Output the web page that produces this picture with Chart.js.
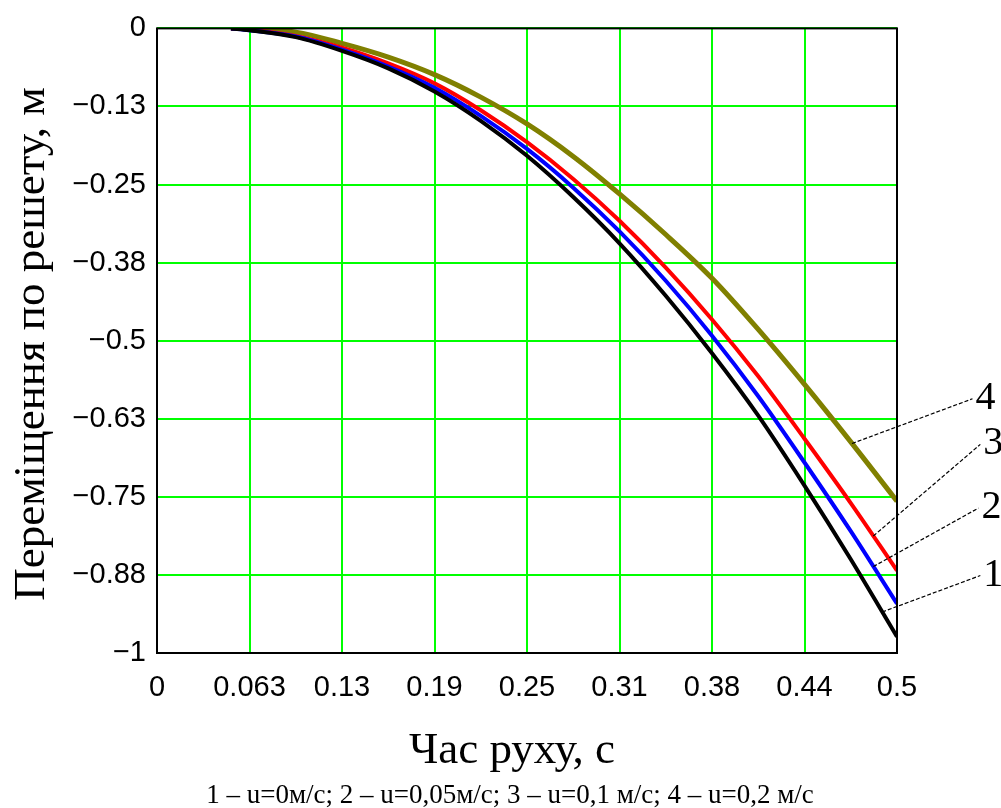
<!DOCTYPE html>
<html>
<head>
<meta charset="utf-8">
<script src="https://cdn.jsdelivr.net/npm/chart.js@4/dist/chart.umd.min.js"></script>
<style>
  html, body { margin: 0; padding: 0; background: #fff; }
  #wrap { width: 1001px; height: 808px; position: relative; }
</style>
</head>
<body>
<div id="wrap"><canvas id="c" width="1001" height="808"></canvas></div>
<script>
// ---- data ----
const time = [0.05, 0.0625, 0.09375, 0.125, 0.15625, 0.1875, 0.21875, 0.25, 0.28125, 0.3125, 0.34375, 0.375, 0.40625, 0.4375, 0.46875, 0.5];
const series1 = [0, -0.003, -0.014, -0.036, -0.064, -0.101, -0.148, -0.204, -0.270, -0.344, -0.428, -0.520, -0.620, -0.732, -0.850, -0.974];
const series2 = [0, -0.003, -0.013, -0.034, -0.061, -0.095, -0.140, -0.193, -0.255, -0.325, -0.404, -0.492, -0.589, -0.695, -0.805, -0.921];
const series3 = [0, -0.002, -0.012, -0.031, -0.056, -0.088, -0.131, -0.182, -0.241, -0.308, -0.383, -0.466, -0.557, -0.657, -0.760, -0.868];
const series4 = [0, 0, -0.006, -0.024, -0.046, -0.074, -0.110, -0.153, -0.205, -0.265, -0.330, -0.400, -0.482, -0.570, -0.662, -0.757];
const seriesNames = ["1", "2", "3", "4"];
const seriesColors = ["#000000", "#0000ff", "#ff0000", "#808000"];

const xTickValues = [0, 0.0625, 0.125, 0.1875, 0.25, 0.3125, 0.375, 0.4375, 0.5];
const xTickLabels = ["0", "0.063", "0.13", "0.19", "0.25", "0.31", "0.38", "0.44", "0.5"];
const yTickValues = [0, -0.125, -0.25, -0.375, -0.5, -0.625, -0.75, -0.875, -1];
const yTickLabels = ["0", "\u22120.13", "\u22120.25", "\u22120.38", "\u22120.5", "\u22120.63", "\u22120.75", "\u22120.88", "\u22121"];

const xTitle = "Час руху, с";
const yTitle = "Переміщення по решету, м";
const caption = "1 \u2013 u=0м/с; 2 \u2013 u=0,05м/с; 3 \u2013 u=0,1 м/с; 4 \u2013 u=0,2 м/с";

// leader lines: start on curve at time t, end at (t, value) outside plot
const leaderStartT = [0.49, 0.484, 0.484, 0.4696];
const leaderEndT = [0.5563, 0.555, 0.5563, 0.551];
const leaderEndV = [-0.876, -0.768, -0.666, -0.593];

// ---- chart ----
const allSeries = [series1, series2, series3, series4];
const datasets = allSeries.map((s, i) => ({
  label: seriesNames[i],
  data: time.map((t, j) => ({ x: t, y: s[j] })),
  borderColor: seriesColors[i],
  borderWidth: i === 3 ? 5 : 4,
  pointRadius: 0,
  fill: false,
  cubicInterpolationMode: 'monotone'
}));

function interp(s, t) {
  for (let j = 0; j < time.length - 1; j++) {
    if (t >= time[j] && t <= time[j + 1]) {
      const f = (t - time[j]) / (time[j + 1] - time[j]);
      return s[j] + f * (s[j + 1] - s[j]);
    }
  }
  return s[s.length - 1];
}

const decor = {
  id: 'decor',
  afterDatasetsDraw(chart) {
    const ctx = chart.ctx;
    const a = chart.chartArea;
    const xs = chart.scales.x, ys = chart.scales.y;
    ctx.save();
    // frame
    ctx.strokeStyle = '#000';
    ctx.lineWidth = 2;
    ctx.strokeRect(a.left, a.top, a.right - a.left, a.bottom - a.top);
    // leaders
    ctx.lineWidth = 1.2;
    ctx.setLineDash([4, 2]);
    ctx.font = '40px "Liberation Serif"';
    ctx.fillStyle = '#000';
    ctx.textAlign = 'left';
    ctx.textBaseline = 'alphabetic';
    for (let i = 0; i < 4; i++) {
      const t0 = leaderStartT[i];
      const x0 = xs.getPixelForValue(t0), y0 = ys.getPixelForValue(interp(allSeries[i], t0));
      const x1 = xs.getPixelForValue(leaderEndT[i]), y1 = ys.getPixelForValue(leaderEndV[i]);
      ctx.beginPath();
      ctx.moveTo(x0, y0);
      ctx.lineTo(x1, y1);
      ctx.stroke();
      ctx.fillText(seriesNames[i], x1 + 3, y1 + 10);
    }
    ctx.setLineDash([]);
    // axis titles
    ctx.textAlign = 'center';
    ctx.font = '45px "Liberation Serif"';
    ctx.fillText(xTitle, 512, 763);
    ctx.save();
    ctx.translate(44, 344);
    ctx.rotate(-Math.PI / 2);
    ctx.fillText(yTitle, 0, 0);
    ctx.restore();
    ctx.font = '27px "Liberation Serif"';
    ctx.fillText(caption, 510, 803);
    ctx.restore();
  }
};

new Chart(document.getElementById('c'), {
  type: 'line',
  data: { datasets },
  options: {
    responsive: false,
    animation: false,
    layout: { padding: { left: 0, top: 23, right: 104, bottom: 0 } },
    plugins: { legend: { display: false }, tooltip: { enabled: false } },
    scales: {
      x: {
        type: 'linear', min: 0, max: 0.5,
        afterBuildTicks(scale) { scale.ticks = xTickValues.map(v => ({ value: v })); },
        afterFit(scale) { scale.height = 155; },
        grid: { color: '#00ff00', lineWidth: 2, drawTicks: false },
        border: { display: false },
        ticks: {
          color: '#000', padding: 18, maxRotation: 0, autoSkip: false,
          font: { family: '"Liberation Sans"', size: 29 },
          callback: (v, i) => xTickLabels[i]
        }
      },
      y: {
        type: 'linear', min: -1, max: 0,
        afterBuildTicks(scale) { scale.ticks = yTickValues.map(v => ({ value: v })); },
        afterFit(scale) { scale.width = 157; },
        grid: { color: '#00ff00', lineWidth: 2, drawTicks: false },
        border: { display: false },
        ticks: {
          color: '#000', padding: 11, autoSkip: false,
          font: { family: '"Liberation Sans"', size: 29 },
          callback: (v, i) => yTickLabels[i]
        }
      }
    }
  },
  plugins: [decor]
});
</script>
</body>
</html>
